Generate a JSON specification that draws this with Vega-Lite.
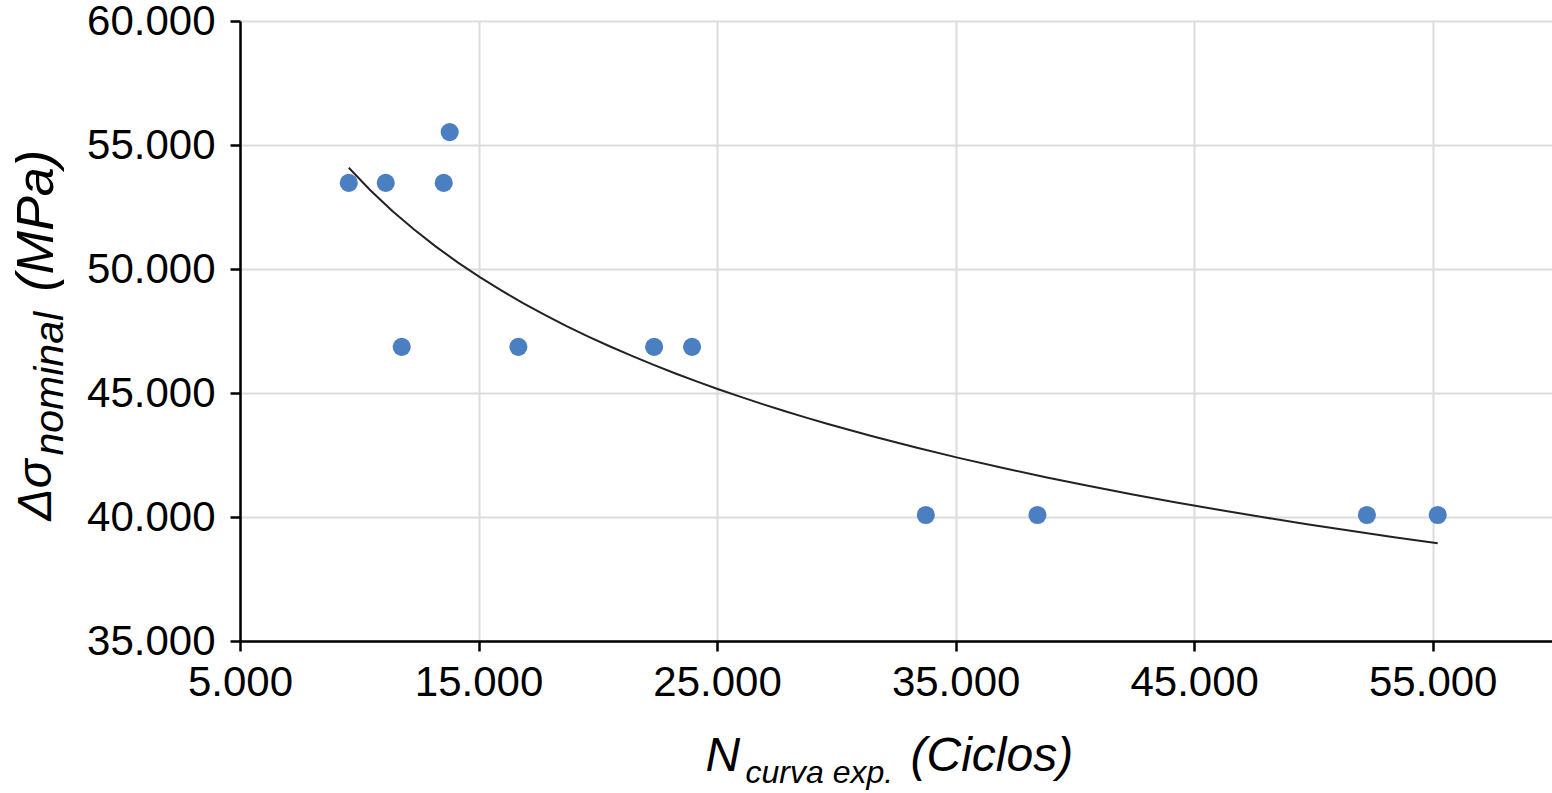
{
  "$schema": "https://vega.github.io/schema/vega-lite/v6.json",
  "width": 1312,
  "height": 620,
  "autosize": "none",
  "padding": {"left": 240, "top": 21, "right": 0, "bottom": 152},
  "background": "white",
  "config": {
    "view": {"stroke": null},
    "font": "Liberation Sans",
    "axis": {
      "labelFont": "Liberation Sans",
      "titleFont": "Liberation Sans",
      "labelColor": "black",
      "titleColor": "black",
      "titleFontWeight": "normal",
      "titleFontStyle": "italic"
    }
  },
  "data": {
    "values": [
      {"N": 9560, "S": 53470},
      {"N": 11110, "S": 53470},
      {"N": 11780, "S": 46860},
      {"N": 13540, "S": 53470},
      {"N": 13790, "S": 55520},
      {"N": 16670, "S": 46860},
      {"N": 22360, "S": 46860},
      {"N": 23950, "S": 46860},
      {"N": 33750, "S": 40080},
      {"N": 38430, "S": 40080},
      {"N": 52240, "S": 40080},
      {"N": 55210, "S": 40080}
    ]
  },
  "resolve": {"axis": {"x": "independent", "y": "independent"}},
  "layer": [
    {
      "mark": {"type": "circle", "size": 330, "opacity": 1, "color": "#4a7fc1"},
      "encoding": {
        "x": {
          "field": "N", "type": "quantitative",
          "scale": {"domain": [5000, 60000], "nice": false, "zero": false},
          "axis": {
            "orient": "bottom",
            "values": [5000, 15000, 25000, 35000, 45000, 55000],
            "labelExpr": "replace(format(datum.value, ',.0f'), ',', '.')",
            "labelFontSize": 42,
            "labelPadding": 11,
            "labelFlush": false,
            "labelOverlap": false,
            "domainColor": "black",
            "domainWidth": 2.5,
            "tickColor": "black",
            "tickWidth": 2.5,
            "tickSize": 10,
            "grid": true,
            "gridColor": "#dcdcdc",
            "gridWidth": 2,
            "title": "N",
            "titleFontSize": 48,
            "titleX": 465,
            "titleY": 129,
            "titleAlign": "left",
            "titleBaseline": "alphabetic",
            "titleAnchor": null
          }
        },
        "y": {
          "field": "S", "type": "quantitative",
          "scale": {"domain": [35000, 60000], "nice": false, "zero": false},
          "axis": {
            "orient": "left",
            "values": [35000, 40000, 45000, 50000, 55000, 60000],
            "labelExpr": "replace(format(datum.value, ',.0f'), ',', '.')",
            "labelFontSize": 42,
            "labelPadding": 15,
            "labelFlush": false,
            "labelOverlap": false,
            "domainColor": "black",
            "domainWidth": 2.5,
            "tickColor": "black",
            "tickWidth": 2.5,
            "tickSize": 10,
            "grid": true,
            "gridColor": "#dcdcdc",
            "gridWidth": 2,
            "title": "Δσ",
            "titleFontSize": 48,
            "titleAngle": 270,
            "titleX": -190,
            "titleY": 499,
            "titleAlign": "left",
            "titleBaseline": "alphabetic",
            "titleAnchor": null
          }
        }
      }
    },
    {
      "transform": [{"regression": "S", "on": "N", "method": "pow"}],
      "mark": {"type": "line", "color": "#222222", "strokeWidth": 2},
      "encoding": {
        "x": {
          "field": "N", "type": "quantitative",
          "scale": {"domain": [5000, 60000], "nice": false, "zero": false},
          "axis": {
            "orient": "bottom",
            "labels": false, "ticks": false, "domain": false, "grid": false,
            "title": "curva exp.",
            "titleFontSize": 32,
            "titleX": 505,
            "titleY": 141,
            "titleAlign": "left",
            "titleBaseline": "alphabetic",
            "titleAnchor": null
          }
        },
        "y": {
          "field": "S", "type": "quantitative",
          "scale": {"domain": [35000, 60000], "nice": false, "zero": false},
          "axis": {
            "orient": "left",
            "labels": false, "ticks": false, "domain": false, "grid": false,
            "title": "nominal",
            "titleFontSize": 41,
            "titleAngle": 270,
            "titleX": -178,
            "titleY": 434,
            "titleAlign": "left",
            "titleBaseline": "alphabetic",
            "titleAnchor": null
          }
        }
      }
    },
    {
      "mark": {"type": "circle", "size": 330, "opacity": 0},
      "encoding": {
        "x": {
          "field": "N", "type": "quantitative",
          "scale": {"domain": [5000, 60000], "nice": false, "zero": false},
          "axis": {
            "orient": "bottom",
            "labels": false, "ticks": false, "domain": false, "grid": false,
            "title": "(Ciclos)",
            "titleFontSize": 48,
            "titleX": 670,
            "titleY": 129,
            "titleAlign": "left",
            "titleBaseline": "alphabetic",
            "titleAnchor": null
          }
        },
        "y": {
          "field": "S", "type": "quantitative",
          "scale": {"domain": [35000, 60000], "nice": false, "zero": false},
          "axis": {
            "orient": "left",
            "labels": false, "ticks": false, "domain": false, "grid": false,
            "title": "(MPa)",
            "titleFontSize": 52,
            "titleAngle": 270,
            "titleX": -188,
            "titleY": 270,
            "titleAlign": "left",
            "titleBaseline": "alphabetic",
            "titleAnchor": null
          }
        }
      }
    }
  ]
}
